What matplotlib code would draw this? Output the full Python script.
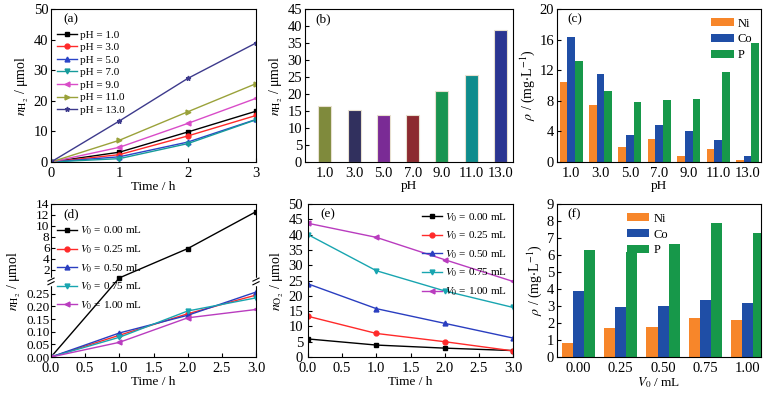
import matplotlib
matplotlib.use("Agg")
import matplotlib.pyplot as plt
import numpy as np
from matplotlib.ticker import FixedLocator, FuncFormatter, MultipleLocator

plt.rcParams["font.family"] = ["Liberation Serif", "DejaVu Serif"]
plt.rcParams["mathtext.fontset"] = "stix"
plt.rcParams["font.size"] = 10.5
plt.rcParams["axes.linewidth"] = 0.8
plt.rcParams["axes.labelsize"] = 9.5

# --- data -----------------------------------------------------------------
time_h = [0, 1, 2, 3]
ph_labels = ["1.0", "3.0", "5.0", "7.0", "9.0", "11.0", "13.0"]

# (a) H2 vs time for each pH
h2_ph1 = [0, 3.2, 9.8, 16.6]
h2_ph3 = [0, 2.4, 8.5, 15.2]
h2_ph5 = [0, 1.7, 6.5, 13.9]
h2_ph7 = [0, 1.1, 6.0, 13.8]
h2_ph9 = [0, 4.8, 12.6, 20.8]
h2_ph11 = [0, 7.1, 16.4, 25.6]
h2_ph13 = [0, 13.4, 27.3, 38.9]

# (b) H2 after 3 h
h2_total = [16.6, 15.2, 13.9, 13.8, 20.8, 25.6, 38.9]

# (c) leached ions vs pH
ni_ph = [10.5, 7.4, 2.0, 3.05, 0.8, 1.75, 0.3]
co_ph = [16.4, 11.5, 3.5, 4.8, 4.1, 2.9, 0.8]
p_ph = [13.2, 9.3, 7.9, 8.05, 8.3, 11.7, 15.5]

# (d) H2 vs time for each V0
v0_labels = ["0.00", "0.25", "0.50", "0.75", "1.00"]
h2_v000 = [0, 0.5, 5.85, 12.6]
h2_v025 = [0, 0.086, 0.171, 0.245]
h2_v050 = [0, 0.095, 0.165, 0.257]
h2_v075 = [0, 0.078, 0.182, 0.234]
h2_v100 = [0, 0.058, 0.155, 0.188]

# (e) O2 vs time for each V0
o2_v000 = [5.9, 3.9, 2.9, 2.1]
o2_v025 = [13.3, 7.7, 5.0, 2.0]
o2_v050 = [23.9, 15.8, 11.0, 6.2]
o2_v075 = [40.0, 28.2, 21.6, 16.2]
o2_v100 = [43.7, 39.1, 31.8, 24.7]

# (f) leached ions vs V0
ni_v0 = [0.8, 1.7, 1.76, 2.3, 2.2]
co_v0 = [3.86, 2.93, 3.02, 3.33, 3.16]
p_v0 = [6.29, 6.18, 6.65, 7.86, 7.29]

# --- styles ---------------------------------------------------------------
ph_colors = ["black", "#ff2a2a", "#2a44c8", "#169b9b", "#d94cc8", "#9aa23a", "#3d3a8c"]
ph_markers = ["s", "o", "^", "v", "<", ">", "*"]
bar_colors_b = ["#7f8a3c", "#31305e", "#7a2b95", "#8c2a30", "#1a9450", "#0f8c8c", "#2b3591"]
v0_colors = ["black", "#ff2a2a", "#2a3ec0", "#18a5b0", "#b93cbf"]
v0_markers = ["s", "o", "^", "v", "<"]
ion_colors = ["#f7862a", "#1f4ea6", "#17984a"]
ion_names = ["Ni", "Co", "P"]

W, H = 768, 395
fig = plt.figure(figsize=(W / 100, H / 100), dpi=100)


def add_ax(left, right, top, bottom):
    return fig.add_axes([left / W, 1 - bottom / H, (right - left) / W, (bottom - top) / H])


def style(ax, xticks=True, size=10.5):
    ax.tick_params(direction="in", length=3, width=0.8, top=False, right=False, labelsize=size, pad=2)
    ax.tick_params(axis="x", pad=3.5)
    if not xticks:
        ax.tick_params(axis="x", length=0)


ylab_h2 = r"$n_{\mathrm{H_2}}$ / μmol"
ylab_rho = r"$\rho$ / (mg$\cdot$L$^{-1}$)"
YLS = 10

# (a)
ax = add_ax(51, 256, 9, 162)
for ys, lab, c, m in zip([h2_ph1, h2_ph3, h2_ph5, h2_ph7, h2_ph9, h2_ph11, h2_ph13],
                         ph_labels, ph_colors, ph_markers):
    ax.plot(time_h, ys, color=c, marker=m, ms=3.5, lw=1, label=f"pH = {lab}")
ax.set_xlim(0, 3)
ax.set_ylim(0, 50)
ax.set_xticks([0, 1, 2, 3])
ax.set_yticks(range(0, 51, 10))
ax.set_xlabel("Time / h", labelpad=1)
ax.set_ylabel(ylab_h2, labelpad=2, fontsize=YLS)
ax.text(0.06, 0.93, "(a)", transform=ax.transAxes, fontsize=9.5, va="center")
ax.legend(loc="upper left", bbox_to_anchor=(0.0, 0.9), frameon=False, fontsize=8,
          labelspacing=0.25, handlelength=1.8, handletextpad=0.3, borderaxespad=0.1)
style(ax)

# (b)
ax = add_ax(305, 513, 9, 162)
xb = np.arange(len(ph_labels))
ax.bar(xb, h2_total, width=0.45, color=bar_colors_b, edgecolor="#e8e0d0", linewidth=0.8)
ax.set_xticks(xb, ph_labels)
ax.set_xlim(-0.68, 6.43)
ax.set_ylim(0, 45)
ax.set_yticks(range(0, 46, 5))
ax.set_xlabel("pH", labelpad=0)
ax.set_ylabel(ylab_h2, labelpad=2, fontsize=YLS)
ax.text(0.05, 0.93, "(b)", transform=ax.transAxes, fontsize=9.5, va="center")
style(ax, xticks=False)

# (c)
ax = add_ax(557, 761, 9, 162)
xc = np.arange(len(ph_labels))
bw = 0.26
for i, (vals, name, c) in enumerate(zip([ni_ph, co_ph, p_ph], ion_names, ion_colors)):
    ax.bar(xc + (i - 1) * bw, vals, width=bw, color=c, label=name, linewidth=0)
ax.set_xticks(xc, ph_labels)
ax.set_xlim(-0.48, 6.46)
ax.set_ylim(0, 20)
ax.set_yticks(range(0, 21, 4))
ax.set_xlabel("pH", labelpad=0)
ax.set_ylabel(ylab_rho, labelpad=2, fontsize=YLS)
ax.text(0.05, 0.93, "(c)", transform=ax.transAxes, fontsize=9.5, va="center")
ax.legend(loc="upper right", frameon=False, fontsize=9, labelspacing=0.3,
          handlelength=1.8, handleheight=0.6, handletextpad=0.3, borderaxespad=0.3)
style(ax, xticks=False)

# (d) broken y axis: 0-0.29 below the break, 0.30-14 above it
kv = [-1.0, 0.0, 0.29, 0.30, 14.0, 30.0]
kp = [-252.0, 0.0, 73.0, 77.7, 152.4, 239.6]


def fwd(v):
    return np.interp(v, kv, kp)


def inv(p):
    return np.interp(p, kp, kv)


ax = add_ax(51, 256, 204, 357)
ax.set_yscale("function", functions=(fwd, inv))
for ys, lab, c, m in zip([h2_v000, h2_v025, h2_v050, h2_v075, h2_v100], v0_labels, v0_colors, v0_markers):
    ax.plot(time_h, ys, color=c, marker=m, ms=3.5, lw=1, label=rf"$V_0$ = {lab} mL")
ax.set_xlim(0, 3)
ax.set_ylim(0, 14)
ax.xaxis.set_major_locator(MultipleLocator(0.5))
ax.xaxis.set_major_formatter(FuncFormatter(lambda v, p: f"{v:.1f}"))
ax.yaxis.set_major_locator(FixedLocator([0, 0.05, 0.10, 0.15, 0.20, 0.25, 2, 4, 6, 8, 10, 12, 14]))
ax.yaxis.set_major_formatter(FuncFormatter(lambda v, p: f"{v:.2f}" if v < 1 else f"{v:.0f}"))
ax.yaxis.set_minor_locator(FixedLocator([]))
ax.set_xlabel("Time / h", labelpad=1)
ax.set_ylabel(ylab_h2, labelpad=2, fontsize=YLS)
ax.text(0.06, 0.93, "(d)", transform=ax.transAxes, fontsize=9.5, va="center")
ax.legend(loc="upper left", bbox_to_anchor=(0.0, 0.9), frameon=False, fontsize=8,
          labelspacing=0.55, handlelength=1.8, handletextpad=0.3, borderaxespad=0.1)
style(ax)
ax.tick_params(axis="y", labelsize=9.5, pad=1)
yb = 75.3 / 152.4
for xs in (0, 1):
    ax.plot([xs, xs], [yb - 0.015, yb + 0.015], transform=ax.transAxes, color="white",
            lw=2.5, clip_on=False, zorder=5)
    for dy in (-0.012, 0.012):
        ax.plot([xs - 0.015, xs + 0.015], [yb + dy - 0.01, yb + dy + 0.01], transform=ax.transAxes,
                color="black", lw=0.8, clip_on=False, zorder=6)

# (e)
ax = add_ax(308, 513, 204, 357)
for ys, lab, c, m in zip([o2_v000, o2_v025, o2_v050, o2_v075, o2_v100], v0_labels, v0_colors, v0_markers):
    ax.plot(time_h, ys, color=c, marker=m, ms=3.5, lw=1, label=rf"$V_0$ = {lab} mL")
ax.set_xlim(0, 3)
ax.set_ylim(0, 50)
ax.xaxis.set_major_locator(MultipleLocator(0.5))
ax.xaxis.set_major_formatter(FuncFormatter(lambda v, p: f"{v:.1f}"))
ax.set_yticks(range(0, 51, 5))
ax.set_xlabel("Time / h", labelpad=1)
ax.set_ylabel(r"$n_{\mathrm{O_2}}$ / μmol", labelpad=2, fontsize=YLS)
ax.text(0.06, 0.93, "(e)", transform=ax.transAxes, fontsize=9.5, va="center")
ax.legend(loc="upper right", bbox_to_anchor=(1.0, 0.99), frameon=False, fontsize=8,
          labelspacing=0.55, handlelength=1.8, handletextpad=0.3, borderaxespad=0.1)
style(ax)
ax.tick_params(axis="y", pad=3.5)

# (f)
ax = add_ax(557, 761, 204, 357)
xf = np.arange(len(v0_labels))
for i, (vals, name, c) in enumerate(zip([ni_v0, co_v0, p_v0], ion_names, ion_colors)):
    ax.bar(xf + (i - 1) * bw, vals, width=bw, color=c, label=name, linewidth=0)
ax.set_xticks(xf, v0_labels)
ax.set_xlim(-0.5, 4.31)
ax.set_ylim(0, 9)
ax.set_yticks(range(0, 10))
ax.set_xlabel(r"$V_0$ / mL", labelpad=0)
ax.set_ylabel(ylab_rho, labelpad=2, fontsize=YLS)
ax.text(0.05, 0.93, "(f)", transform=ax.transAxes, fontsize=9.5, va="center")
ax.legend(loc="upper left", bbox_to_anchor=(0.3, 1.0), frameon=False, fontsize=9, labelspacing=0.3,
          handlelength=1.8, handleheight=0.6, handletextpad=0.3, borderaxespad=0.3)
style(ax, xticks=False)

fig.savefig("out.png", dpi=100)
